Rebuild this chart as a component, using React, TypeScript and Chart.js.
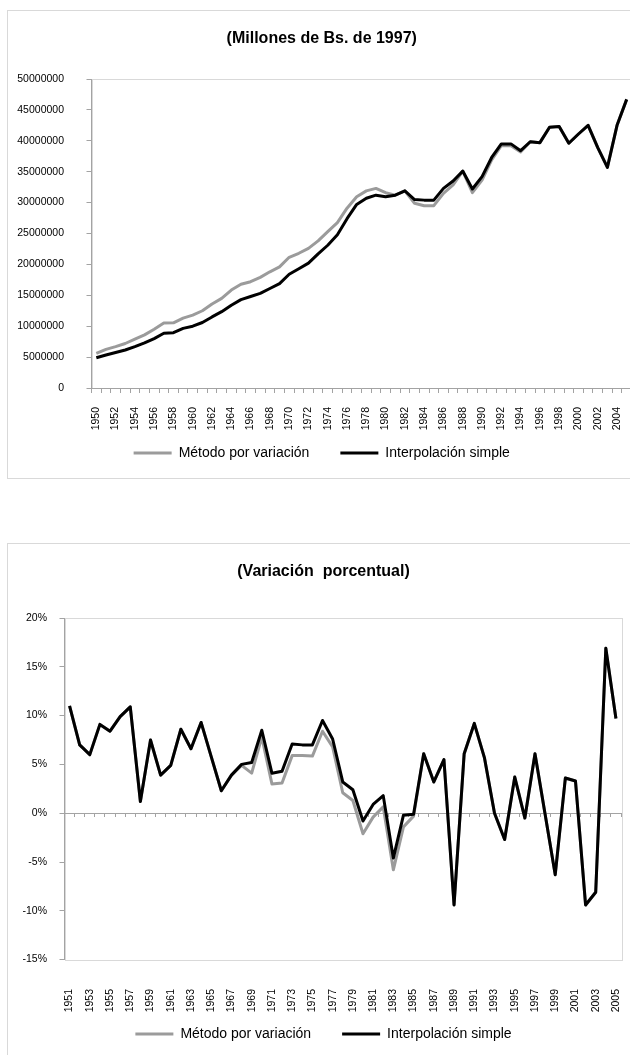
import React, { useEffect, useRef } from 'react';
import { Chart, registerables } from 'chart.js';

Chart.register(...registerables);

const FONT = "'Liberation Sans', Arial, Helvetica, sans-serif";

// ---------- Data: levels (Millones de Bs. de 1997) ----------
const yearsLevel = [
  '1950', '1951', '1952', '1953', '1954', '1955', '1956', '1957', '1958', '1959',
  '1960', '1961', '1962', '1963', '1964', '1965', '1966', '1967', '1968', '1969',
  '1970', '1971', '1972', '1973', '1974', '1975', '1976', '1977', '1978', '1979',
  '1980', '1981', '1982', '1983', '1984', '1985', '1986', '1987', '1988', '1989',
  '1990', '1991', '1992', '1993', '1994', '1995', '1996', '1997', '1998', '1999',
  '2000', '2001', '2002', '2003', '2004', '2005',
];

const levelVariacion = [
  5600000, 6250000, 6700000, 7200000, 7900000, 8600000, 9500000, 10500000, 10550000, 11300000,
  11800000, 12500000, 13600000, 14500000, 15850000, 16800000, 17200000, 17900000, 18800000, 19600000,
  21150000, 21800000, 22600000, 23800000, 25300000, 26750000, 29100000, 30950000, 31900000, 32300000,
  31600000, 31200000, 31900000, 29900000, 29500000, 29500000, 31500000, 32850000, 35100000, 31600000,
  33650000, 36900000, 39200000, 39200000, 38200000, 39850000, 39700000, 42200000, 42300000, 39600000,
  41100000, 42500000, 38900000, 35700000, 42500000, 46700000,
];

const levelInterpolacion = [
  4900000, 5350000, 5750000, 6150000, 6700000, 7300000, 8000000, 8850000, 8950000, 9650000,
  10000000, 10600000, 11500000, 12350000, 13400000, 14300000, 14800000, 15300000, 16100000, 16900000,
  18400000, 19300000, 20200000, 21700000, 23100000, 24800000, 27400000, 29700000, 30700000, 31200000,
  30950000, 31200000, 31900000, 30500000, 30400000, 30400000, 32300000, 33500000, 35100000, 32200000,
  34200000, 37300000, 39500000, 39500000, 38400000, 39850000, 39700000, 42200000, 42300000, 39600000,
  41100000, 42500000, 38900000, 35700000, 42500000, 46700000,
];

// ---------- Data: percentage change ----------
const yearsChange = [
  '1951', '1952', '1953', '1954', '1955', '1956', '1957', '1958', '1959',
  '1960', '1961', '1962', '1963', '1964', '1965', '1966', '1967', '1968', '1969',
  '1970', '1971', '1972', '1973', '1974', '1975', '1976', '1977', '1978', '1979',
  '1980', '1981', '1982', '1983', '1984', '1985', '1986', '1987', '1988', '1989',
  '1990', '1991', '1992', '1993', '1994', '1995', '1996', '1997', '1998', '1999',
  '2000', '2001', '2002', '2003', '2004', '2005',
];

const changeVariacion = [
  11.0, 7.0, 6.0, 9.1, 8.4, 9.9, 10.9, 1.2, 7.5,
  3.9, 4.9, 8.6, 6.6, 9.3, 5.8, 2.3, 3.9, 4.9, 4.1,
  7.8, 3.0, 3.1, 5.9, 5.9, 5.85, 8.4, 6.8, 2.1, 1.3,
  -2.1, -0.4, 0.65, -5.8, -1.4, -0.3, 6.1, 3.2, 5.5, -9.4,
  6.1, 9.2, 5.7, 0.0, -2.7, 3.7, -0.5, 6.1, -0.1, -6.3,
  3.6, 3.3, -9.4, -8.1, 16.9, 9.7,
];

const changeInterpolacion = [
  11.0, 7.0, 6.0, 9.1, 8.4, 9.9, 10.9, 1.2, 7.5,
  3.9, 4.9, 8.6, 6.6, 9.3, 5.8, 2.3, 3.9, 5.0, 5.2,
  8.5, 4.1, 4.3, 7.1, 7.0, 7.0, 9.5, 7.6, 3.2, 2.4,
  -0.8, 0.9, 1.8, -4.6, -0.2, -0.1, 6.1, 3.2, 5.5, -9.4,
  6.1, 9.2, 5.7, 0.0, -2.7, 3.7, -0.5, 6.1, -0.1, -6.3,
  3.6, 3.3, -9.4, -8.1, 16.9, 9.7,
];

const seriesNames = ['Método por variación', 'Interpolación simple'];

const GRAY = '#9b9b9b';
const BLACK = '#000000';
const AXIS = '#a3a3a3';
const FRAME = '#d9d9d9';

const plotFrame = {
  id: 'plotFrame',
  beforeDraw(chart: any) {
    const { ctx, chartArea: a } = chart;
    ctx.save();
    ctx.strokeStyle = FRAME;
    ctx.lineWidth = 1;
    ctx.strokeRect(
      Math.round(a.left) + 0.5,
      Math.round(a.top) + 0.5,
      Math.round(a.right - a.left),
      Math.round(a.bottom - a.top)
    );
    ctx.restore();
  },
};

function makeDatasets(a: number[], b: number[]) {
  return [
    {
      label: seriesNames[0],
      data: a,
      xAxisID: 'x',
      yAxisID: 'y',
      borderColor: GRAY,
      backgroundColor: GRAY,
      borderWidth: 3,
      pointRadius: 0,
      tension: 0,
      borderJoinStyle: 'round',
      order: 1,
    },
    {
      label: seriesNames[1],
      data: b,
      xAxisID: 'x',
      yAxisID: 'y',
      borderColor: BLACK,
      backgroundColor: BLACK,
      borderWidth: 3,
      pointRadius: 0,
      tension: 0,
      borderJoinStyle: 'round',
      order: 0,
    },
  ];
}

function legendOptions() {
  return {
    display: true,
    position: 'bottom',
    labels: {
      usePointStyle: true,
      pointStyle: 'line',
      pointStyleWidth: 38,
      color: '#000',
      padding: 31,
      font: { size: 14, family: FONT },
      sort: (a: any, b: any) => a.datasetIndex - b.datasetIndex,
    },
  };
}

const tickFont = { size: 10.5, family: FONT };

// keep rotated category labels from shrinking the plot area
const noSidePadding = (s: any) => { s.paddingLeft = 0; s.paddingRight = 0; };

// invisible layout spacer axes (reserve room without drawing anything)
function spacerX(height: number) {
  return {
    type: 'category',
    position: 'bottom',
    display: true,
    grid: { display: false },
    border: { display: false },
    ticks: { display: false },
    afterFit: (s: any) => { s.height = height; s.paddingLeft = 0; s.paddingRight = 0; },
  };
}
function spacerY(width: number) {
  return {
    type: 'linear',
    position: 'right',
    display: true,
    grid: { display: false },
    border: { display: false },
    ticks: { display: false },
    afterFit: (s: any) => { s.width = width; s.paddingTop = 0; s.paddingBottom = 0; },
  };
}

function levelConfig(): any {
  return {
    type: 'line',
    data: { labels: yearsLevel, datasets: makeDatasets(levelVariacion, levelInterpolacion) },
    plugins: [plotFrame],
    options: {
      responsive: false,
      animation: false,
      events: [],
      layout: { padding: { left: 0, right: 10.5, top: 0, bottom: 8 } },
      plugins: {
        title: {
          display: true,
          text: '(Millones de Bs. de 1997)',
          color: '#000',
          font: { size: 16, weight: 'bold', family: FONT },
          padding: { top: 19.4, bottom: 30.4 },
        },
        legend: legendOptions(),
        tooltip: { enabled: false },
      },
      scales: {
        x: {
          type: 'category',
          axis: 'x',
          position: { y: 0 },
          offset: true,
          grid: { display: true, drawOnChartArea: false, drawTicks: true, tickLength: 4, color: AXIS, offset: true },
          border: { display: true, color: AXIS },
          ticks: {
            autoSkip: false,
            minRotation: 90,
            maxRotation: 90,
            padding: 15,
            color: '#000',
            font: tickFont,
            callback: (_v: any, i: number) => (i % 2 === 0 ? yearsLevel[i] : ''),
          },
          afterFit: noSidePadding,
        },
        xs: spacerX(27),
        y: {
          position: 'left',
          min: 0,
          max: 50000000,
          grid: { display: true, drawOnChartArea: false, drawTicks: true, tickLength: 5, color: AXIS },
          border: { display: true, color: AXIS },
          ticks: {
            stepSize: 5000000,
            padding: 22.5,
            color: '#000',
            font: tickFont,
            callback: (v: any) => String(v),
          },
          afterFit: (s: any) => { s.width = 84.5; },
        },
        yr: spacerY(5),
      },
    },
  };
}

function changeConfig(): any {
  return {
    type: 'line',
    data: { labels: yearsChange, datasets: makeDatasets(changeVariacion, changeInterpolacion) },
    plugins: [plotFrame],
    options: {
      responsive: false,
      animation: false,
      events: [],
      layout: { padding: { left: 0, right: 7, top: 0, bottom: 4 } },
      plugins: {
        title: {
          display: true,
          text: '(Variación  porcentual)',
          color: '#000',
          font: { size: 16, weight: 'bold', family: FONT },
          padding: { top: 19.4, bottom: 36.4 },
        },
        legend: legendOptions(),
        tooltip: { enabled: false },
      },
      scales: {
        x: {
          type: 'category',
          axis: 'x',
          position: { y: -15 },
          offset: true,
          grid: { display: false },
          border: { display: false },
          ticks: {
            autoSkip: false,
            minRotation: 90,
            maxRotation: 90,
            padding: 21.4,
            color: '#000',
            font: tickFont,
            callback: (_v: any, i: number) => (i % 2 === 0 ? yearsChange[i] : ''),
          },
          afterFit: noSidePadding,
        },
        x2: {
          type: 'category',
          axis: 'x',
          position: { y: 0 },
          offset: true,
          grid: { display: true, drawOnChartArea: false, drawTicks: true, tickLength: 3, color: AXIS, offset: true },
          border: { display: true, color: AXIS },
          ticks: { display: false },
          afterFit: noSidePadding,
        },
        xs: spacerX(36.4),
        y: {
          position: 'left',
          min: -15,
          max: 20,
          grid: { display: true, drawOnChartArea: false, drawTicks: true, tickLength: 5, color: AXIS },
          border: { display: true, color: AXIS },
          ticks: {
            stepSize: 5,
            padding: 12.5,
            color: '#000',
            font: tickFont,
            callback: (v: any) => v + '%',
          },
          afterFit: (s: any) => { s.width = 57.5; },
        },
        yr: spacerY(19),
      },
    },
  };
}

function ChartCanvas({ make, left, top, width, height }: any) {
  const ref = useRef<HTMLCanvasElement | null>(null);
  useEffect(() => {
    const chart = new Chart(ref.current as HTMLCanvasElement, make());
    return () => chart.destroy();
  }, []);
  return (
    <canvas
      ref={ref}
      width={width}
      height={height}
      style={{ position: 'absolute', left, top, width, height, display: 'block' }}
    />
  );
}

function Frame({ left, top, width, height }: any) {
  return (
    <div
      style={{
        position: 'absolute',
        left,
        top,
        width,
        height,
        boxSizing: 'border-box',
        border: `1px solid ${FRAME}`,
        pointerEvents: 'none',
      }}
    />
  );
}

export default function App() {
  return (
    <div
      style={{
        position: 'absolute',
        left: 0,
        top: 0,
        width: 630,
        height: 1055,
        overflow: 'hidden',
        background: '#fff',
      }}
    >
      <Frame left={7} top={10} width={700} height={469} />
      <ChartCanvas make={levelConfig} left={7} top={10} width={640} height={468} />
      <Frame left={7} top={543} width={700} height={600} />
      <ChartCanvas make={changeConfig} left={7} top={543} width={640} height={512} />
    </div>
  );
}
